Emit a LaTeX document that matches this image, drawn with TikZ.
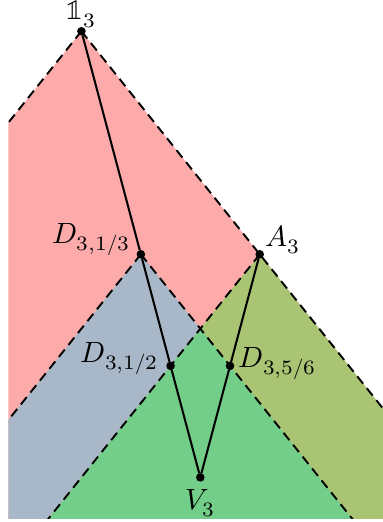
\documentclass[tikz,border=0pt]{standalone}
\usepackage{unicode-math}
\setmathfont{Latin Modern Math}
\usetikzlibrary{backgrounds}

\definecolor{conered}{HTML}{FDAAAA}
\definecolor{coneblue}{HTML}{A8B8C8}
\definecolor{coneolive}{HTML}{A9C574}
\definecolor{conegreen}{HTML}{72CE88}

\begin{document}
\begin{tikzpicture}
[x=0.713cm, y=0.892cm, font=\normalsize]

\tikzstyle{vertex}=[circle, draw, fill=black, inner sep=0mm, minimum size=2.5pt]
\tikzstyle{cone}=[dash pattern=on 3.2pt off 2pt, line width=0.65pt]

\useasboundingbox (-3.37,-3.6) rectangle (3.07,3.42);

\node[vertex]	(one)	at (-2,3)	[label={[inner sep=1pt, yshift=-1.4pt]above:{$\symbb{1}_3$}}]	{};
\node[vertex]	(D13)	at (-1,0)	[label={[xshift=1.5pt, yshift=5pt]left:{$D_{3,1/3}$}}]	{};
\node[vertex]	(A)	at (1,0)	[label={[xshift=-3pt, yshift=5pt]right:{$A_3$}}]	{};
\node[vertex]	(D12)	at (-0.5,-1.5)	[label={[xshift=1pt, yshift=2.4pt]left:{$D_{3,1/2}$}}]	{};
\node[vertex]	(D56)	at (0.5,-1.5)	[label={[xshift=-2pt, yshift=0.7pt]right:{$D_{3,5/6}$}}]	{};
\node[vertex]	(V)	at (0,-3)	[label={[yshift=1pt]below:{$V_3$}}]	{};

% far ends of the cone edges
\coordinate (oneL) at (-7,-2);
\coordinate (oneR) at (6,-5);
\coordinate (D13L) at (-6,-5);
\coordinate (D13R) at (4,-5);
\coordinate (AL)   at (-4,-5);

\begin{scope}[on background layer]
\clip (-3.23,-3.548) rectangle (3.2,3.5);
\fill[conered]   (one.center) -- (oneL) -- (-7,-5) -- (oneR) -- cycle;
\fill[coneblue]  (D13.center) -- (D13L) -- (D13R) -- cycle;
\fill[coneolive] (A.center) -- (AL) -- (6,-5) -- cycle;
\fill[conegreen] (0,-1) -- (AL) -- (D13R) -- cycle;

\draw[cone] (one.center) -- (oneL);
\draw[cone] (one.center) -- (oneR);
\draw[cone] (D13.center) -- (D13L);
\draw[cone] (D13.center) -- (D13R);
\draw[cone] (A.center) -- (AL);
\end{scope}

\draw [line width=0.7pt] (one)--(D13)--(D12)--(V)--(D56)--(A);
\end{tikzpicture}
\end{document}
